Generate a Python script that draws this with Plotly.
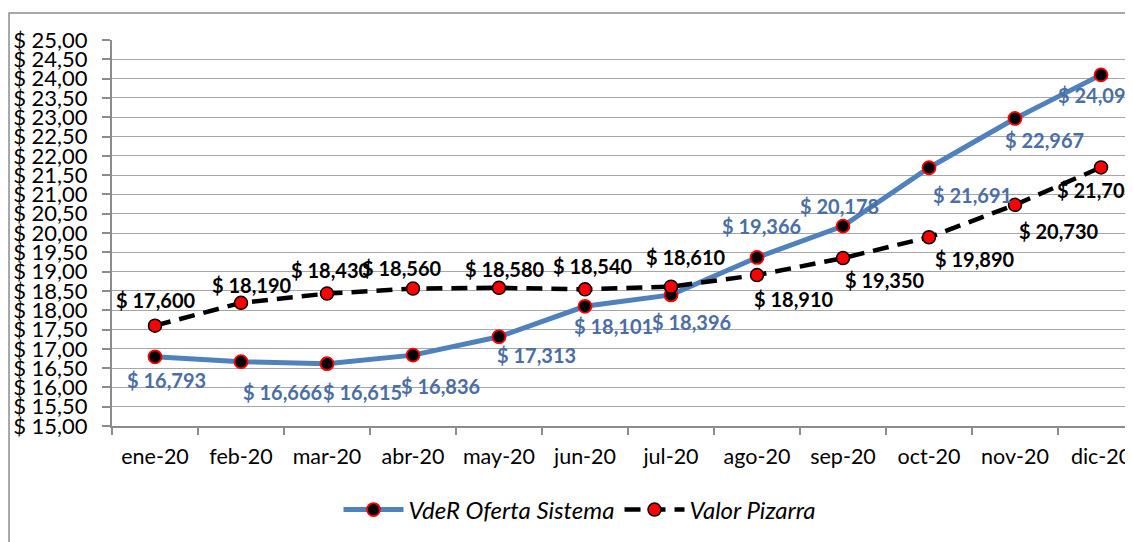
import plotly.graph_objects as go

# Data
months = ["ene-20", "feb-20", "mar-20", "abr-20", "may-20", "jun-20",
          "jul-20", "ago-20", "sep-20", "oct-20", "nov-20", "dic-20"]
vder_oferta = [16.793, 16.666, 16.615, 16.836, 17.313, 18.101,
               18.396, 19.366, 20.178, 21.691, 22.967, 24.096]
valor_pizarra = [17.600, 18.190, 18.430, 18.560, 18.580, 18.540,
                 18.610, 18.910, 19.350, 19.890, 20.730, 21.700]
y_ticks = [15.0, 15.5, 16.0, 16.5, 17.0, 17.5, 18.0, 18.5, 19.0, 19.5, 20.0,
           20.5, 21.0, 21.5, 22.0, 22.5, 23.0, 23.5, 24.0, 24.5, 25.0]

# label offsets (px) relative to each point, like the hand-placed excel labels
blue_shift = [(11, -23), (41, -30), (35, -28), (27, -31), (37, -18), (28, -20),
              (20, -27), (4, 31), (-4, 20), (43, -27), (29, -22), (-4, -20)]
black_shift = [(1, 26), (11, 18), (4, 24), (-11, 21), (6, 19), (8, 23),
               (15, 30), (37, -24), (42, -22), (46, -22), (44, -26), (-4, -23)]

FONT = "Lato"
BLUE = "#4f81bd"
BLUE_TXT = "#4a6ea5"
GREY = "#8c8c8c"


def money(v, dec):
    return "$ " + f"{v:.{dec}f}".replace(".", ",")


fig = go.Figure()
fig.add_trace(go.Scatter(
    x=months, y=vder_oferta, name="VdeR Oferta Sistema", mode="lines+markers",
    line=dict(color=BLUE, width=5),
    marker=dict(size=13, color="black", line=dict(color="red", width=1.8)),
))
fig.add_trace(go.Scatter(
    x=months, y=valor_pizarra, name="Valor Pizarra", mode="lines+markers",
    line=dict(color="black", width=4.5, dash="16px,9px"),
    marker=dict(size=13, color="red", line=dict(color="black", width=1.5)),
))

# Data labels
for m, v, (dx, dy) in zip(months, vder_oferta, blue_shift):
    fig.add_annotation(x=m, y=v, text=money(v, 3), showarrow=False,
                       xshift=dx, yshift=dy,
                       font=dict(family=FONT, size=20, color=BLUE_TXT, weight="bold"))
for m, v, (dx, dy) in zip(months, valor_pizarra, black_shift):
    fig.add_annotation(x=m, y=v, text=money(v, 3), showarrow=False,
                       xshift=dx, yshift=dy,
                       font=dict(family=FONT, size=20, color="black", weight="bold"))

# Outer chart border (cut by the image edge on the right/bottom)
fig.add_shape(type="rect", xref="paper", yref="paper",
              x0=-0.0993, x1=1.2, y0=-0.6, y1=1.07,
              line=dict(color=GREY, width=1.5), layer="below")

# page body has an 8px margin, so the figure is laid out 8px up/left,
# and made a bit wider so the plot runs off the right edge like the original
fig.update_layout(
    width=1141, height=534,
    margin=dict(l=104, r=0, t=32, b=116, autoexpand=False),
    plot_bgcolor="white",
    paper_bgcolor="white",
    font=dict(family=FONT, size=20, color="black"),
    showlegend=True,
    legend=dict(orientation="h", x=0.4513, xanchor="center", y=-0.2176,
                yanchor="middle", itemwidth=60,
                font=dict(family=FONT, size=24, style="italic")),
)
fig.update_xaxes(
    type="category", range=[-0.5, 11.558], tickson="boundaries",
    ticks="outside", ticklen=7, tickcolor=GREY, tickwidth=1.5,
    showline=True, linecolor=GREY, linewidth=2, showgrid=False,
    ticklabelstandoff=10, tickfont=dict(size=21.5), automargin=False,
)
fig.update_yaxes(
    range=[15, 25], tickvals=y_ticks, ticktext=[money(v, 2) for v in y_ticks],
    ticks="outside", ticklen=8, tickcolor=GREY, tickwidth=1.5,
    showline=True, linecolor=GREY, linewidth=2,
    showgrid=True, gridcolor="#a6a6a6", gridwidth=1.3, zeroline=False,
    ticklabelstandoff=10, tickfont=dict(size=22), automargin=False,
)

fig.write_html("out.html")
